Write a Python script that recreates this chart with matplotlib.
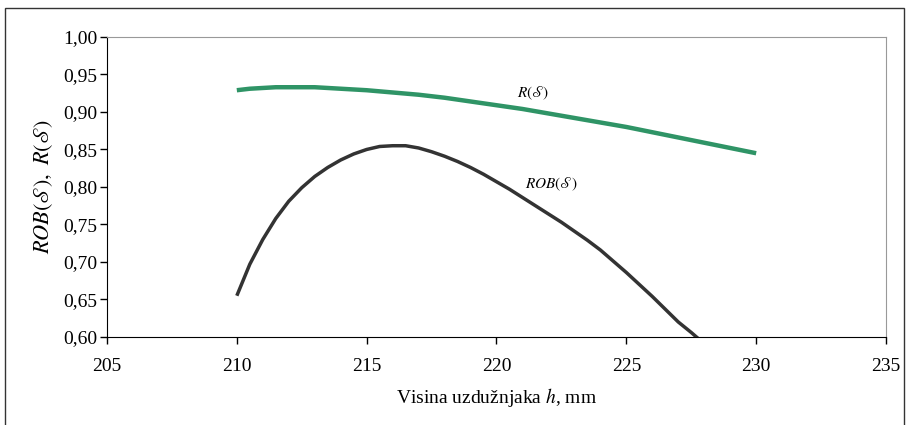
import matplotlib.pyplot as plt
from matplotlib.patches import Rectangle
from matplotlib.ticker import FuncFormatter

plt.rcParams['font.family'] = ['Liberation Serif', 'DejaVu Serif']
plt.rcParams['mathtext.fontset'] = 'stix'

# R(S) curve
h_r = [210, 210.5, 211, 211.5, 212, 212.5, 213, 213.5, 214, 214.5, 215, 216, 217, 218, 219, 220,
       221, 222, 223, 224, 225, 226, 227, 228, 229, 230]
r_vals = [0.929, 0.931, 0.932, 0.933, 0.933, 0.933, 0.933, 0.932, 0.931, 0.930, 0.929, 0.926,
          0.923, 0.919, 0.914, 0.909, 0.904, 0.898, 0.892, 0.886, 0.880, 0.873, 0.866, 0.859,
          0.852, 0.845]

# ROB(S) curve
h_rob = [210, 210.5, 211, 211.5, 212, 212.5, 213, 213.5, 214, 214.5, 215, 215.5, 216, 216.5,
         217, 217.5, 218, 218.5, 219, 219.5, 220, 220.5, 221, 221.5, 222, 222.5, 223, 223.5,
         224, 224.5, 225, 225.5, 226, 226.5, 227, 227.5, 228]
rob_vals = [0.655, 0.697, 0.730, 0.758, 0.781, 0.799, 0.814, 0.826, 0.836, 0.844, 0.850, 0.854,
            0.855, 0.855, 0.852, 0.847, 0.841, 0.834, 0.826, 0.817, 0.807, 0.797, 0.786, 0.775,
            0.764, 0.753, 0.741, 0.729, 0.716, 0.701, 0.686, 0.670, 0.654, 0.637, 0.620, 0.606,
            0.591]

fig = plt.figure(figsize=(9.09, 4.25), dpi=100)
ax = fig.add_axes([0.1177, 0.2071, 0.857, 0.7059])

ax.plot(h_r, r_vals, color='#2f9466', lw=3.2, solid_capstyle='butt', solid_joinstyle='round')
ax.plot(h_rob, rob_vals, color='#333333', lw=2.5, solid_capstyle='butt', solid_joinstyle='round')

ax.set_xlim(205, 235)
ax.set_ylim(0.60, 1.00)
ax.set_xticks(range(205, 236, 5))
ax.set_yticks([0.60 + 0.05 * i for i in range(9)])
ax.yaxis.set_major_formatter(FuncFormatter(lambda v, p: f'{v:.2f}'.replace('.', ',')))
ax.tick_params(direction='out', length=5, width=1, labelsize=14, color='black', pad=2)
ax.tick_params(axis='x', pad=10)

for s in ['top', 'right']:
    ax.spines[s].set_color('#999999')
for s in ['left', 'bottom']:
    ax.spines[s].set_color('black')

ax.text(221.4, 0.925, r'$R(\mathscr{S})$', fontsize=11, ha='center', va='center')
ax.text(222.1, 0.804, r'$ROB(\mathscr{S})$', fontsize=11, ha='center', va='center')

ax.set_xlabel(r'Visina uzdužnjaka $h$, mm', fontsize=14, labelpad=8)
ax.set_ylabel(r'$ROB(\mathscr{S}),$ $R(\mathscr{S})$', fontsize=16, labelpad=6)

fig.patches.append(Rectangle((5 / 909, -0.05), 899 / 909, 1.05 - 8 / 425,
                             transform=fig.transFigure, fill=False,
                             edgecolor='#333333', lw=1))

fig.savefig('out.png', dpi=100)
